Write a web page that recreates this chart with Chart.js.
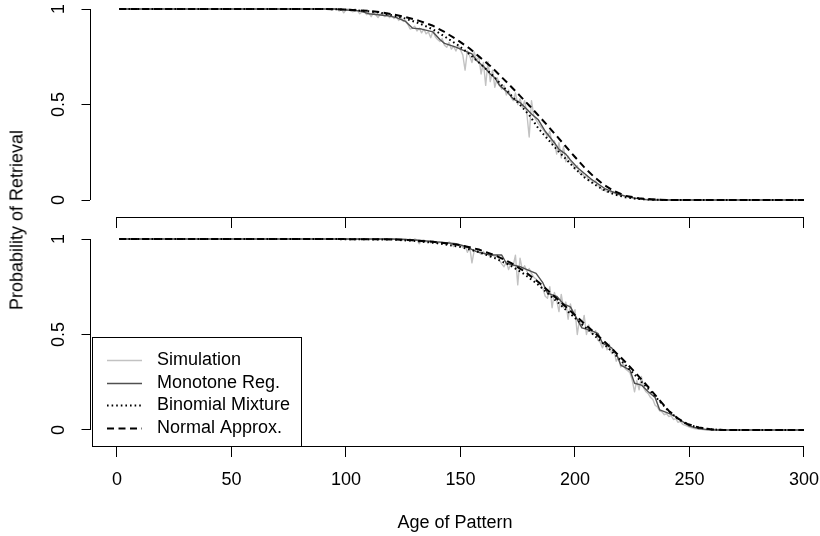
<!DOCTYPE html>
<html>
<head>
<meta charset="utf-8">
<script src="https://cdn.jsdelivr.net/npm/chart.js@4.4.1/dist/chart.umd.min.js"></script>
<style>
  html, body { margin: 0; padding: 0; background: #fff; }
  #wrap { position: relative; width: 820px; height: 536px; overflow: hidden; }
  #wrap canvas { position: absolute; left: 0; top: 0; }
  #ytitle {
    position: absolute; left: 17px; top: 220px;
    transform: translate(-50%, -50%) rotate(-90deg);
    font: 18px "Liberation Sans", Arial, sans-serif; color: #000; white-space: nowrap;
  }
</style>
</head>
<body>
<div id="wrap">
  <canvas id="panelTop" width="820" height="536"></canvas>
  <canvas id="panelBottom" width="820" height="536"></canvas>
  <div id="ytitle">Probability of Retrieval</div>
</div>
<script>
// ---- axis ticks ----
const xTicks = [0, 50, 100, 150, 200, 250, 300];
const yTicks = [0, 0.5, 1];
const seriesNames = ['Simulation', 'Monotone Reg.', 'Binomial Mixture', 'Normal Approx.'];

// ---- upper panel ----
const smoothAgesTop = [1, 90, 100, 110, 115, 120, 126, 132, 138, 143, 149, 154, 158, 163, 167, 171, 176, 180, 184, 188, 192, 196, 200, 204, 208, 212, 217, 222, 228, 235, 242, 300];
const normalTop   = [1, 1, 0.997, 0.99, 0.983, 0.973, 0.958, 0.938, 0.912, 0.88, 0.835, 0.793, 0.752, 0.702, 0.655, 0.607, 0.545, 0.495, 0.443, 0.39, 0.335, 0.28, 0.225, 0.172, 0.125, 0.085, 0.047, 0.022, 0.009, 0.002, 0, 0];
const binomialTop = [1, 1, 0.997, 0.988, 0.98, 0.968, 0.95, 0.925, 0.893, 0.857, 0.81, 0.763, 0.72, 0.665, 0.615, 0.563, 0.498, 0.445, 0.375, 0.32, 0.265, 0.215, 0.165, 0.12, 0.086, 0.056, 0.03, 0.014, 0.005, 0.001, 0, 0];

const monoAgesTop = [1, 95, 100, 106, 110, 118, 122, 126, 129, 133, 138, 141, 143, 148, 151, 155, 157, 160, 163, 165, 167, 170, 173, 176, 179, 181, 184, 187, 189, 191, 193, 196, 198, 201, 204, 207, 210, 213, 216, 219, 222, 226, 231, 235, 300];
const monoTop     = [1, 1, 0.995, 0.99, 0.975, 0.965, 0.955, 0.935, 0.9, 0.895, 0.88, 0.84, 0.82, 0.8, 0.785, 0.765, 0.73, 0.7, 0.66, 0.64, 0.6, 0.57, 0.53, 0.51, 0.475, 0.45, 0.42, 0.36, 0.33, 0.3, 0.265, 0.24, 0.21, 0.17, 0.14, 0.11, 0.085, 0.06, 0.045, 0.03, 0.02, 0.01, 0.002, 0, 0];

// simulated retrieval rate, one value per age from 96 to 240
const simStartTop = 96;
const simTop = [
  1, 0.99, 1, 0.98, 0.995, 1, 0.99, 0.985, 1, 0.99, 0.975, 0.985, 0.99, 0.97, 0.98,
  0.96, 0.98, 0.97, 0.955, 0.975, 0.97, 0.96, 0.98, 0.955, 0.965, 0.95, 0.96, 0.94, 0.955, 0.935,
  0.94, 0.92, 0.895, 0.9, 0.91, 0.885, 0.9, 0.875, 0.895, 0.87, 0.88, 0.85, 0.885, 0.855, 0.84,
  0.83, 0.845, 0.81, 0.8, 0.825, 0.79, 0.805, 0.78, 0.81, 0.785, 0.76, 0.68, 0.78, 0.755, 0.72,
  0.775, 0.73, 0.75, 0.66, 0.72, 0.6, 0.725, 0.62, 0.68, 0.59, 0.64, 0.61, 0.58, 0.6, 0.55,
  0.575, 0.54, 0.52, 0.56, 0.5, 0.53, 0.485, 0.52, 0.45, 0.33, 0.52, 0.44, 0.42, 0.4, 0.385,
  0.37, 0.355, 0.33, 0.36, 0.29, 0.31, 0.24, 0.3, 0.22, 0.28, 0.2, 0.23, 0.2, 0.19, 0.16,
  0.18, 0.14, 0.15, 0.12, 0.13, 0.1, 0.11, 0.09, 0.1, 0.075, 0.07, 0.05, 0.06, 0.04, 0.05,
  0.035, 0.045, 0.025, 0.03, 0.02, 0.025, 0.015, 0.02, 0.01, 0.012, 0.005, 0.01, 0.004, 0.006, 0.002,
  0.004, 0, 0.003, 0, 0.008, 0, 0.005, 0, 0, 0
];

// ---- lower panel ----
const smoothAgesBottom = [1, 90, 120, 130, 140, 150, 158, 165, 172, 178, 184, 190, 196, 202, 208, 214, 220, 226, 232, 237, 241, 245, 249, 254, 260, 265, 300];
const normalBottom   = [1, 1, 0.998, 0.993, 0.983, 0.968, 0.945, 0.915, 0.875, 0.83, 0.775, 0.71, 0.645, 0.58, 0.515, 0.45, 0.38, 0.305, 0.225, 0.155, 0.1, 0.06, 0.032, 0.013, 0.003, 0, 0];
const binomialBottom = [1, 1, 0.997, 0.99, 0.978, 0.958, 0.932, 0.9, 0.86, 0.815, 0.76, 0.695, 0.63, 0.565, 0.5, 0.435, 0.365, 0.29, 0.215, 0.15, 0.098, 0.058, 0.03, 0.012, 0.003, 0, 0];

const monoAgesBottom = [1, 120, 130, 140, 148, 152, 157, 163, 168, 170, 176, 179, 183, 186, 188, 192, 195, 198, 200, 203, 206, 210, 212, 216, 218, 220, 224, 226, 229, 232, 235, 237, 241, 244, 246, 250, 254, 258, 262, 300];
const monoBottom     = [1, 1, 0.995, 0.985, 0.975, 0.962, 0.934, 0.916, 0.916, 0.873, 0.855, 0.84, 0.82, 0.77, 0.716, 0.7, 0.66, 0.645, 0.6, 0.535, 0.525, 0.506, 0.455, 0.43, 0.4, 0.34, 0.314, 0.245, 0.235, 0.2, 0.17, 0.105, 0.087, 0.07, 0.052, 0.02, 0.008, 0.002, 0, 0];

// simulated retrieval rate, one value per age from 126 to 260
const simStartBottom = 126;
const simBottom = [
  1, 0.995, 1, 0.99, 1, 0.995, 0.975, 0.99, 0.995, 0.985, 0.99, 0.98, 0.99, 0.985, 0.975,
  0.985, 0.975, 0.98, 0.97, 0.985, 0.975, 0.96, 0.975, 0.965, 0.97, 0.955, 0.965, 0.93, 0.96, 0.875,
  0.94, 0.945, 0.93, 0.92, 0.935, 0.915, 0.925, 0.905, 0.92, 0.905, 0.915, 0.89, 0.87, 0.855, 0.88,
  0.84, 0.87, 0.86, 0.915, 0.76, 0.9, 0.84, 0.86, 0.83, 0.845, 0.82, 0.8, 0.79, 0.77, 0.76,
  0.74, 0.7, 0.69, 0.75, 0.64, 0.72, 0.68, 0.62, 0.71, 0.64, 0.67, 0.58, 0.66, 0.6, 0.63,
  0.5, 0.58, 0.54, 0.6, 0.5, 0.55, 0.51, 0.5, 0.52, 0.47, 0.46, 0.43, 0.46, 0.42, 0.45,
  0.4, 0.42, 0.36, 0.38, 0.33, 0.35, 0.32, 0.31, 0.3, 0.26, 0.2, 0.26, 0.21, 0.28, 0.22,
  0.2, 0.19, 0.17, 0.16, 0.13, 0.12, 0.1, 0.095, 0.08, 0.085, 0.07, 0.075, 0.055, 0.06, 0.04,
  0.045, 0.03, 0.025, 0.02, 0.015, 0.012, 0.008, 0.006, 0.004, 0.003, 0.002, 0, 0.001, 0, 0
];

// ---- helpers ----
const FONT = { family: '"Liberation Sans", Arial, Helvetica, sans-serif', size: 18 };
const pair = (ages, vals) => ages.map((a, i) => ({ x: a, y: vals[i] }));
const simSeries = (start, vals, first, last) =>
  [{ x: 1, y: first }, ...vals.map((v, i) => ({ x: start + i, y: v })), { x: 300, y: last }];

const STYLES = [
  { borderColor: '#c2c2c2', borderWidth: 1.4, borderDash: [], order: 4 },
  { borderColor: '#505050', borderWidth: 1.4, borderDash: [], order: 3 },
  { borderColor: '#000000', borderWidth: 2, borderDash: [1.6, 3], order: 2 },
  { borderColor: '#000000', borderWidth: 2, borderDash: [7, 4.5], order: 1 }
];

function makeDatasets(sim, mono, binom, norm) {
  return [sim, mono, binom, norm].map((data, i) => Object.assign({
    label: seriesNames[i], data,
    pointRadius: 0, tension: 0, fill: false,
    borderJoinStyle: 'round', borderCapStyle: 'butt'
  }, STYLES[i]));
}

// R-style axis lines: span first to last tick only
const axisLines = {
  id: 'axisLines',
  afterDraw(chart) {
    const { ctx } = chart;
    const x = chart.scales.x, y = chart.scales.y;
    ctx.save();
    ctx.strokeStyle = '#000';
    ctx.lineWidth = 1;
    const ay = Math.round(x.top - 0.5) + 0.5;
    ctx.beginPath();
    ctx.moveTo(x.getPixelForValue(xTicks[0]), ay);
    ctx.lineTo(x.getPixelForValue(xTicks[xTicks.length - 1]), ay);
    const ax = Math.round(y.right - 0.5) + 0.5;
    ctx.moveTo(ax, y.getPixelForValue(yTicks[0]));
    ctx.lineTo(ax, y.getPixelForValue(yTicks[yTicks.length - 1]));
    ctx.stroke();
    ctx.restore();
  }
};

// boxed legend in the lower-left corner of the plotting region
const boxLegend = {
  id: 'boxLegend',
  afterDraw(chart, args, opts) {
    if (!opts.show) return;
    const { ctx, chartArea } = chart;
    const w = 209, h = 109;
    const left = chartArea.left + 2, bottom = Math.round(chartArea.bottom) + 0.5;
    const top = bottom - h;
    ctx.save();
    ctx.fillStyle = '#fff';
    ctx.fillRect(left, top, w, h);
    ctx.strokeStyle = '#000';
    ctx.lineWidth = 1;
    ctx.strokeRect(Math.round(left) + 0.5, top, w, h);
    ctx.font = FONT.size + 'px ' + FONT.family;
    ctx.textBaseline = 'middle';
    ctx.textAlign = 'left';
    ctx.fillStyle = '#000';
    const rows = [22, 45, 67, 90];
    chart.data.datasets.forEach((ds, i) => {
      const yy = Math.round(top + rows[i]) + 0.5;
      ctx.strokeStyle = ds.borderColor;
      ctx.lineWidth = ds.borderWidth;
      ctx.setLineDash(ds.borderDash);
      ctx.beginPath();
      ctx.moveTo(left + 15, yy);
      ctx.lineTo(left + 50, yy);
      ctx.stroke();
      ctx.setLineDash([]);
      ctx.fillText(ds.label, left + 65, yy);
    });
    ctx.restore();
  }
};

function makePanel(canvasId, datasets, cfg) {
  return new Chart(document.getElementById(canvasId), {
    type: 'line',
    data: { datasets },
    plugins: [axisLines, boxLegend],
    options: {
      responsive: false,
      animation: false,
      devicePixelRatio: 1,
      events: [],
      layout: { padding: { top: cfg.padTop, bottom: cfg.padBottom, left: 0, right: 0 } },
      plugins: {
        legend: { display: false },
        tooltip: { enabled: false },
        boxLegend: { show: cfg.legend }
      },
      scales: {
        x: {
          type: 'linear', min: -11.79, max: 306.99,
          border: { display: false },
          grid: { drawOnChartArea: false, drawTicks: true, tickLength: 11, color: '#000', lineWidth: 1 },
          ticks: { display: cfg.xLabels, font: FONT, color: '#000', padding: 12, maxRotation: 0, callback: v => String(v) },
          title: { display: cfg.xLabels, text: 'Age of Pattern', font: FONT, color: '#000', padding: { top: 0, bottom: 2 } },
          afterBuildTicks: s => { s.ticks = xTicks.map(v => ({ value: v })); },
          afterFit: s => { s.height = cfg.xHeight; s.paddingLeft = 0; s.paddingRight = 0; }
        },
        y: {
          type: 'linear', min: cfg.yMin, max: cfg.yMax,
          border: { display: false },
          grid: { drawOnChartArea: false, drawTicks: true, tickLength: 8.5, color: '#000', lineWidth: 1 },
          ticks: { font: FONT, color: '#000', padding: 9.5, minRotation: 90, maxRotation: 90, crossAlign: 'center', callback: v => String(v) },
          afterBuildTicks: s => { s.ticks = yTicks.map(v => ({ value: v })); },
          afterFit: s => { s.width = 90; s.paddingTop = 0; s.paddingBottom = 0; }
        }
      }
    }
  });
}

makePanel('panelTop', makeDatasets(
  simSeries(simStartTop, simTop, 1, 0),
  pair(monoAgesTop, monoTop),
  pair(smoothAgesTop, binomialTop),
  pair(smoothAgesTop, normalTop)
), { padTop: 1, padBottom: 299, xHeight: 20, xLabels: false, legend: false, yMin: -0.089, yMax: 1.0419 });

makePanel('panelBottom', makeDatasets(
  simSeries(simStartBottom, simBottom, 1, 0),
  pair(monoAgesBottom, monoBottom),
  pair(smoothAgesBottom, binomialBottom),
  pair(smoothAgesBottom, normalBottom)
), { padTop: 231, padBottom: 0, xHeight: 90, xLabels: true, legend: true, yMin: -0.0838, yMax: 1.0419 });
</script>
</body>
</html>
